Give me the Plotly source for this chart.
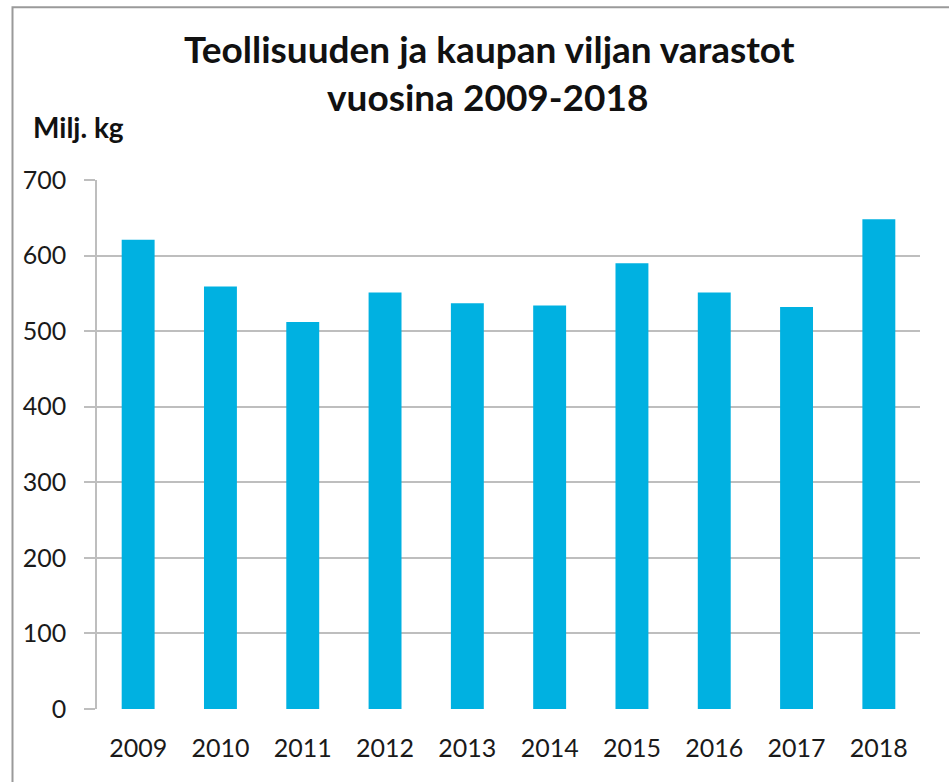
import plotly.graph_objects as go

years = ["2009", "2010", "2011", "2012", "2013", "2014", "2015", "2016", "2017", "2018"]
stocks = [621, 559, 512, 551, 537, 534, 590, 551, 532, 648]
y_ticks = [0, 100, 200, 300, 400, 500, 600, 700]

W, H = 949, 782
L, R, T, B = 97, 29, 179.5, 72.5
PW, PH = W - L - R, H - T - B

def px(x):
    return (x - L) / PW

def py(y):
    return (H - B - y) / PH

FONT = "Lato, Open Sans, sans-serif"

fig = go.Figure(go.Bar(
    x=years, y=stocks, marker_color="#00B1E1", marker_line_width=0,
))

fig.update_layout(
    width=W, height=H,
    margin=dict(l=L, r=R, t=T, b=B),
    paper_bgcolor="white", plot_bgcolor="white",
    bargap=0.6, showlegend=False,
    font=dict(family=FONT, color="#1a1a1a"),
)
fig.update_yaxes(
    range=[0, 700], tickvals=y_ticks, showgrid=True, gridcolor="#BEBEBE", gridwidth=1.5,
    showline=True, linecolor="#BEBEBE", linewidth=1.5,
    ticks="outside", ticklen=11, tickcolor="#BEBEBE", tickwidth=1.5,
    tickfont=dict(size=25, family=FONT, color="#1a1a1a"), ticklabelstandoff=13,
    zeroline=False, fixedrange=True,
)
fig.update_xaxes(
    showgrid=False, showline=False, ticks="",
    tickfont=dict(size=25, family=FONT, color="#1a1a1a"), ticklabelstandoff=22,
)

fig.add_annotation(text="<b>Teollisuuden ja kaupan viljan varastot</b>", xref="paper", yref="paper",
                   x=px(489), y=py(48), showarrow=False, xanchor="center", yanchor="middle",
                   font=dict(size=37, family=FONT, color="#111"))
fig.add_annotation(text="<b>vuosina 2009-2018</b>", xref="paper", yref="paper",
                   x=px(487), y=py(96), showarrow=False, xanchor="center", yanchor="middle",
                   font=dict(size=37, family=FONT, color="#111"))
fig.add_annotation(text="<b>Milj. kg</b>", xref="paper", yref="paper",
                   x=px(31), y=py(126), showarrow=False, xanchor="left", yanchor="middle",
                   font=dict(size=28, family=FONT, color="#111"))

fig.add_shape(type="rect", xref="paper", yref="paper",
              x0=px(12.5), x1=px(960), y0=py(800), y1=py(6.5),
              line=dict(color="#9A9A9A", width=2), fillcolor="rgba(0,0,0,0)", layer="below")

fig.write_html("out.html", config={"displayModeBar": False},
               post_script="document.body.style.margin='0';document.body.style.overflow='hidden';")
